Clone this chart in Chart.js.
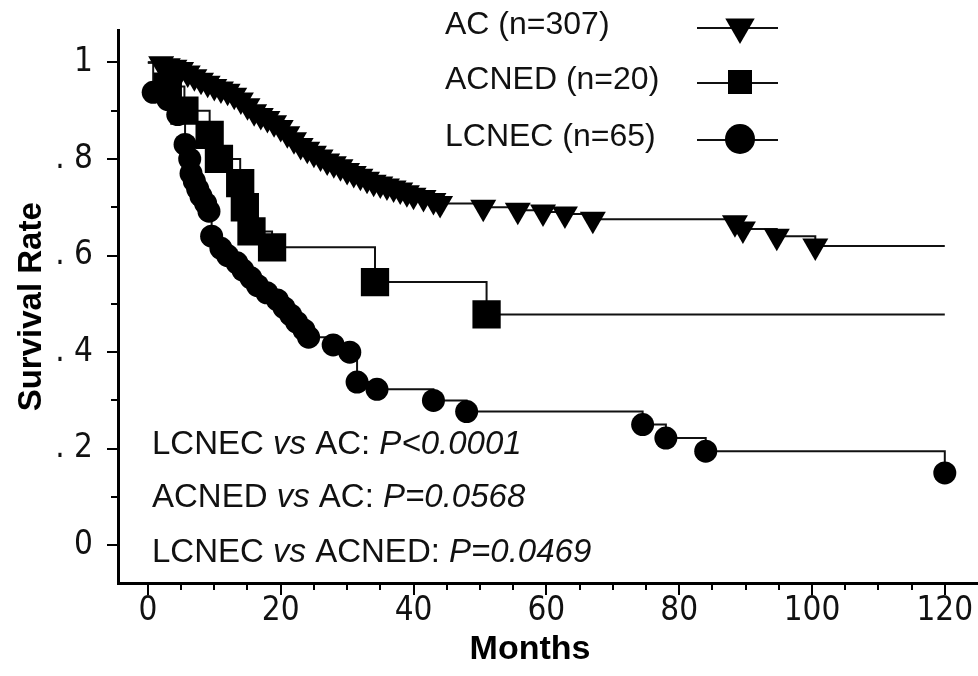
<!DOCTYPE html>
<html>
<head>
<meta charset="utf-8">
<script src="https://cdn.jsdelivr.net/npm/chart.js@4.4.1/dist/chart.umd.min.js"></script>
<style>
  html, body { margin: 0; padding: 0; background: #fff; }
  canvas { display: block; }
</style>
</head>
<body>
<canvas id="km" width="978" height="676"></canvas>
<script>
// axes
var monthTicks = [0, 20, 40, 60, 80, 100, 120];
var monthMinorTicks = [5, 10, 15, 25, 30, 35, 45, 50, 55, 65, 70, 75, 85, 90, 95, 105, 110, 115];
var rateTicks = [0, 0.2, 0.4, 0.6, 0.8, 1];
var rateTickLabels = ['0', '. 2', '. 4', '. 6', '. 8', '1'];
var rateMinorTicks = [0.1, 0.3, 0.5, 0.7, 0.9];

var groupLabels = ['AC (n=307)', 'ACNED (n=20)', 'LCNEC (n=65)'];

// Kaplan-Meier steps (month, survival after the step)
var acMonths = [0, 2, 3, 4, 5, 6, 7, 8, 9, 10, 11, 12, 13, 14, 15, 16, 17, 18, 19, 20,
  21, 22, 23, 24, 25, 26, 27, 28, 29, 30, 31, 32, 33, 34, 35, 36, 37, 38, 39, 40,
  41.5, 43, 44, 50.5, 55.7, 59.5, 62.8, 67, 88.4, 89.6, 94.7, 100.5, 120];
var acSurvival = [1.0, 0.997, 0.993, 0.99, 0.985, 0.978, 0.97, 0.963, 0.957, 0.95,
  0.945, 0.94, 0.932, 0.922, 0.91, 0.898, 0.89, 0.884, 0.875, 0.865,
  0.852, 0.84, 0.828, 0.82, 0.812, 0.804, 0.796, 0.79, 0.784, 0.776, 0.77, 0.764, 0.758,
  0.752, 0.748, 0.744, 0.74, 0.736, 0.73, 0.725,
  0.72, 0.714, 0.708, 0.70, 0.694, 0.69, 0.686, 0.675, 0.668, 0.655, 0.64, 0.62, 0.62];

var acnedMonths = [0, 3, 5.5, 9.3, 10.7, 13.9, 14.6, 15.6, 18.7, 34.2, 51, 120];
var acnedSurvival = [1, 0.95, 0.90, 0.85, 0.80, 0.75, 0.70, 0.65, 0.617, 0.545, 0.478, 0.478];

var lcnecMonths = [0, 0.8, 3, 4.5, 5.6, 6.3, 6.5, 7, 7.5, 8, 8.7, 9.2, 9.6, 11, 12, 13.4,
  14.3, 15.5, 16.5, 17.9, 19.5, 20.5, 21.5, 22.4, 23.5, 24.2, 27.9, 30.4, 31.5, 34.5,
  43, 48, 74.5, 78, 84, 120];
var lcnecSurvival = [1.0, 0.938, 0.923, 0.892, 0.83, 0.80, 0.77, 0.754, 0.738, 0.723, 0.708,
  0.692, 0.64, 0.615, 0.60, 0.585, 0.57, 0.554, 0.538, 0.523, 0.508, 0.492, 0.477, 0.462,
  0.446, 0.431, 0.415, 0.40, 0.338, 0.323, 0.30, 0.277, 0.25, 0.222, 0.195, 0.15];

var comparisons = [
  ['LCNEC', 'AC', 'P<0.0001'],
  ['ACNED', 'AC', 'P=0.0568'],
  ['LCNEC', 'ACNED', 'P=0.0469']
];

var INK = '#111';
var SANS = '"Liberation Sans", Arial, sans-serif';
var NARROW = '"Liberation Sans Narrow", "Arial Narrow", "DejaVu Sans Condensed", sans-serif';

var markers = [
  { pointStyle: 'triangle', rotation: 180, radius: 15, endMark: false },
  { pointStyle: 'rect', rotation: 0, radius: 20, endMark: false },
  { pointStyle: 'circle', rotation: 0, radius: 11.5, endMark: true }
];

function toPoints(xs, ys) {
  return xs.map(function (x, i) { return { x: x, y: ys[i] }; });
}

function makeDataset(label, xs, ys, m) {
  var last = xs.length - 1;
  return {
    label: label,
    data: toPoints(xs, ys),
    stepped: true,
    borderColor: INK,
    borderWidth: 2,
    fill: false,
    pointStyle: m.pointStyle,
    pointRotation: m.rotation,
    pointBackgroundColor: '#000',
    pointBorderWidth: 0,
    // no mark at the start point, and none at the cut-off unless the figure has one
    pointRadius: function (c) {
      if (c.dataIndex === 0) return 0;
      if (c.dataIndex === last && !m.endMark) return 0;
      return m.radius;
    }
  };
}

// minor ticks, legend, p-value notes and x title
var extras = {
  id: 'extras',
  afterDraw: function (chart) {
    var ctx = chart.ctx;
    var xs = chart.scales.x, ys = chart.scales.y;
    var area = chart.chartArea;
    ctx.save();
    ctx.strokeStyle = '#000';
    ctx.lineWidth = 2;
    rateMinorTicks.forEach(function (v) {
      var py = Math.round(ys.getPixelForValue(v));
      ctx.beginPath(); ctx.moveTo(area.left - 7, py); ctx.lineTo(area.left, py); ctx.stroke();
    });
    monthMinorTicks.forEach(function (v) {
      var px = Math.round(xs.getPixelForValue(v));
      ctx.beginPath(); ctx.moveTo(px, area.bottom); ctx.lineTo(px, area.bottom + 7); ctx.stroke();
    });

    // legend: text then line sample with marker
    var rowsY = [25, 80, 137];
    ctx.fillStyle = INK;
    ctx.textBaseline = 'middle';
    ctx.textAlign = 'left';
    groupLabels.forEach(function (lab, i) {
      ctx.font = '32px ' + SANS;
      ctx.fillText(lab, 445, rowsY[i]);
      ctx.strokeStyle = INK;
      ctx.lineWidth = 2;
      ctx.beginPath(); ctx.moveTo(697, rowsY[i] + 3); ctx.lineTo(778, rowsY[i] + 3); ctx.stroke();
      ctx.fillStyle = '#000';
      Chart.helpers.drawPoint(ctx, {
        pointStyle: markers[i].pointStyle,
        rotation: markers[i].rotation,
        radius: i === 2 ? 15 : 17,
        borderWidth: 0
      }, 740, rowsY[i] + 2);
      ctx.fillStyle = INK;
    });

    // comparison notes
    var noteY = [445, 498, 553];
    comparisons.forEach(function (c, i) {
      var parts = [[c[0] + ' ', false], ['vs', true], [' ' + c[1] + ': ', false], [c[2], true]];
      var x = 152;
      parts.forEach(function (p) {
        ctx.font = (p[1] ? 'italic ' : '') + '33px ' + SANS;
        ctx.fillText(p[0], x, noteY[i]);
        x += ctx.measureText(p[0]).width;
      });
    });

    // x axis title
    ctx.font = 'bold 34px ' + SANS;
    ctx.textAlign = 'center';
    ctx.fillStyle = '#000';
    ctx.fillText('Months', 530, 650);
    ctx.restore();
  }
};

new Chart(document.getElementById('km').getContext('2d'), {
  type: 'line',
  data: {
    datasets: [
      makeDataset(groupLabels[0], acMonths, acSurvival, markers[0]),
      makeDataset(groupLabels[1], acnedMonths, acnedSurvival, markers[1]),
      makeDataset(groupLabels[2], lcnecMonths, lcnecSurvival, markers[2])
    ]
  },
  options: {
    responsive: false,
    animation: false,
    events: [],
    layout: { autoPadding: false, padding: { top: 30, right: 0, bottom: 0, left: 0 } },
    plugins: { legend: { display: false }, tooltip: { enabled: false } },
    scales: {
      x: {
        type: 'linear',
        min: -4.5,
        max: 125,
        afterFit: function (s) { s.height = 93; },
        afterBuildTicks: function (s) { s.ticks = monthTicks.map(function (v) { return { value: v }; }); },
        border: { display: true, color: '#000', width: 3 },
        grid: { display: true, drawOnChartArea: false, drawTicks: true, tickLength: 12, color: '#000', lineWidth: 2 },
        ticks: {
          color: INK,
          padding: 0,
          maxRotation: 0,
          autoSkip: false,
          font: { family: NARROW, size: 33, lineHeight: 1 },
          callback: function (v) { return String(v); }
        }
      },
      y: {
        min: -0.078,
        max: 1.066,
        afterFit: function (s) { s.width = 118; },
        afterBuildTicks: function (s) { s.ticks = rateTicks.map(function (v) { return { value: v }; }); },
        border: { display: true, color: '#000', width: 3 },
        grid: { display: true, drawOnChartArea: false, drawTicks: true, tickLength: 11, color: '#000', lineWidth: 2 },
        ticks: {
          color: INK,
          padding: 14,
          autoSkip: false,
          font: { family: NARROW, size: 33, lineHeight: 1 },
          callback: function (v) {
            var i = rateTicks.indexOf(v);
            return i >= 0 ? rateTickLabels[i] : '';
          }
        },
        title: {
          display: true,
          text: 'Survival Rate',
          color: '#000',
          font: { family: SANS, size: 33, weight: 'bold', lineHeight: 1.2 },
          padding: { top: 12, bottom: 0 }
        }
      }
    }
  },
  plugins: [extras]
});
</script>
</body>
</html>
